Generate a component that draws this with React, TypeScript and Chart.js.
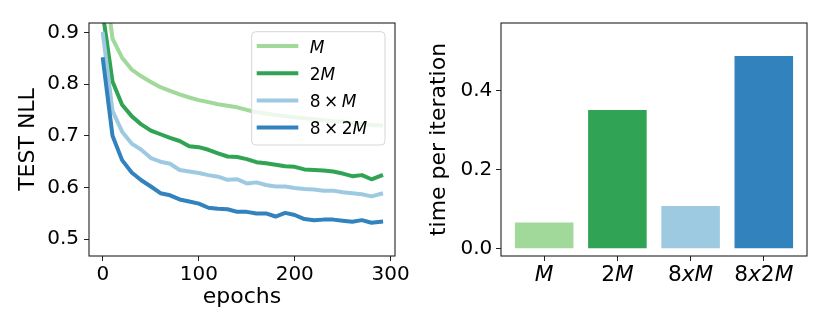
import React, { useEffect, useRef } from 'react';
import { Chart, registerables } from 'chart.js';

Chart.register(...registerables);

const epochs = [0, 10, 20, 30, 40, 50, 60, 70, 80, 90, 100, 110, 120, 130, 140, 150, 160, 170, 180, 190, 200, 210, 220, 230, 240, 250, 260, 270, 280, 290];
const nllM = [1.03, 0.888, 0.851, 0.828, 0.815, 0.804, 0.794, 0.787, 0.780, 0.774, 0.769, 0.765, 0.761, 0.758, 0.755, 0.750, 0.746, 0.743, 0.740, 0.738, 0.736, 0.734, 0.732, 0.730, 0.728, 0.727, 0.725, 0.723, 0.721, 0.720];
const nll2M = [0.935, 0.805, 0.760, 0.738, 0.722, 0.710, 0.703, 0.696, 0.690, 0.680, 0.678, 0.673, 0.666, 0.660, 0.659, 0.655, 0.649, 0.647, 0.644, 0.641, 0.640, 0.635, 0.634, 0.633, 0.631, 0.627, 0.622, 0.624, 0.616, 0.623];
const nll8xM = [0.897, 0.748, 0.708, 0.685, 0.673, 0.657, 0.650, 0.646, 0.634, 0.631, 0.628, 0.624, 0.621, 0.615, 0.616, 0.608, 0.610, 0.605, 0.602, 0.602, 0.599, 0.597, 0.596, 0.594, 0.594, 0.591, 0.589, 0.587, 0.583, 0.588];
const nll8x2M = [0.848, 0.700, 0.653, 0.629, 0.614, 0.602, 0.589, 0.585, 0.577, 0.573, 0.569, 0.561, 0.559, 0.558, 0.553, 0.553, 0.550, 0.550, 0.544, 0.551, 0.547, 0.539, 0.537, 0.538, 0.538, 0.536, 0.534, 0.537, 0.532, 0.534];
const seriesLabels = ['M', '2M', '8 × M', '8 × 2M'];
const seriesColors = ['#a1d99b', '#31a354', '#9ecae1', '#3182bd'];

const barCategories = ['M', '2M', '8xM', '8x2M'];
const timePerIteration = [0.066, 0.351, 0.108, 0.488];

const nllTicks = [0.5, 0.6, 0.7, 0.8, 0.9];
const epochTicks = [0, 100, 200, 300];
const timeTicks = [0, 0.2, 0.4];

const FAM = '"DejaVu Sans", sans-serif';
const TICK_SIZE = 20;
const LABEL_SIZE = 22;

type Run = { text: string; italic: boolean; gap?: number };

function toRuns(text: string, gap: number): Run[] {
  const runs: Run[] = [];
  for (const ch of Array.from(text)) {
    if (ch === ' ') {
      runs.push({ text: '', italic: false, gap });
      continue;
    }
    const italic = /[A-Za-z]/.test(ch);
    const last = runs[runs.length - 1];
    if (last && last.gap === undefined && last.italic === italic) last.text += ch;
    else runs.push({ text: ch, italic });
  }
  return runs;
}

function drawRich(ctx: CanvasRenderingContext2D, text: string, x: number, y: number, size: number, align: 'left' | 'center', gap: number) {
  const runs = toRuns(text, gap);
  const widths = runs.map((r) => {
    if (r.gap !== undefined) return r.gap;
    ctx.font = `${r.italic ? 'italic ' : ''}${size}px ${FAM}`;
    return ctx.measureText(r.text).width;
  });
  const total = widths.reduce((a, b) => a + b, 0);
  let cx = align === 'center' ? x - total / 2 : x;
  ctx.textAlign = 'left';
  ctx.textBaseline = 'alphabetic';
  ctx.fillStyle = '#000';
  runs.forEach((r, i) => {
    if (r.gap === undefined) {
      ctx.font = `${r.italic ? 'italic ' : ''}${size}px ${FAM}`;
      ctx.fillText(r.text, cx, y);
    }
    cx += widths[i];
  });
}

const framePlugin = {
  id: 'mplFrame',
  afterDraw(chart: any) {
    const { ctx, chartArea: a } = chart;
    ctx.save();
    ctx.strokeStyle = '#222';
    ctx.lineWidth = 1.1;
    ctx.strokeRect(a.left, a.top, a.right - a.left, a.bottom - a.top);
    ctx.restore();
  },
};

const legendPlugin = {
  id: 'mplLegend',
  afterDatasetsDraw(chart: any) {
    const { ctx, chartArea: a } = chart;
    const bx = a.right - 143.3;
    const by = a.top + 8.7;
    const bw = 133.3;
    const bh = 113.3;
    ctx.save();
    ctx.beginPath();
    (ctx as any).roundRect(bx, by, bw, bh, 4);
    ctx.fillStyle = 'rgba(255,255,255,0.8)';
    ctx.fill();
    ctx.strokeStyle = '#d6d6d6';
    ctx.lineWidth = 1;
    ctx.stroke();
    seriesLabels.forEach((label, i) => {
      const ry = by + 14.3 + i * 27.2;
      ctx.beginPath();
      ctx.strokeStyle = seriesColors[i];
      ctx.lineWidth = 4;
      ctx.lineCap = 'butt';
      ctx.moveTo(bx + 5, ry);
      ctx.lineTo(bx + 46.6, ry);
      ctx.stroke();
      drawRich(ctx, label, bx + 58, ry + 6.5, 17, 'left', 3.5);
    });
    ctx.restore();
  },
};

const barLabelPlugin = {
  id: 'mplBarLabels',
  afterDraw(chart: any) {
    const { ctx } = chart;
    const xs = chart.scales.x;
    ctx.save();
    barCategories.forEach((c, i) => {
      drawRich(ctx, c, xs.getPixelForValue(i), 280.7, 21.7, 'center', 0);
    });
    ctx.restore();
  },
};

const tickGrid = { display: true, drawOnChartArea: false, drawTicks: true, tickLength: 5, color: '#222', lineWidth: 1, offset: false };

export default function App() {
  const lineRef = useRef<HTMLCanvasElement>(null);
  const barRef = useRef<HTMLCanvasElement>(null);

  useEffect(() => {
    const series = [nllM, nll2M, nll8xM, nll8x2M];
    const lineChart = new Chart(lineRef.current!, {
      type: 'line',
      data: {
        datasets: series.map((s, i) => ({
          label: seriesLabels[i],
          data: s.map((v, j) => ({ x: epochs[j], y: v })),
          borderColor: seriesColors[i],
          backgroundColor: seriesColors[i],
          borderWidth: 4,
          pointRadius: 0,
          tension: 0,
          borderJoinStyle: 'round' as const,
          borderCapStyle: 'square' as const,
          order: 4 - i,
        })),
      },
      options: {
        animation: false,
        responsive: false,
        devicePixelRatio: 1,
        layout: { padding: { top: 23, right: 20, left: 0, bottom: 0 } },
        plugins: { legend: { display: false }, tooltip: { enabled: false } },
        scales: {
          x: {
            type: 'linear',
            min: -14.5,
            max: 304.5,
            offset: false,
            afterBuildTicks: (s: any) => { s.ticks = epochTicks.map((v) => ({ value: v })); },
            afterFit: (s: any) => { s.height = 76; },
            grid: tickGrid,
            border: { display: false },
            ticks: { font: { family: FAM, size: TICK_SIZE }, color: '#000', padding: 1.5, maxRotation: 0, autoSkip: false, callback: (v: any) => String(v) },
            title: { display: true, text: 'epochs', color: '#000', font: { family: FAM, size: LABEL_SIZE }, padding: { top: 0, bottom: 22 } },
          },
          y: {
            type: 'linear',
            min: 0.4677,
            max: 0.918,
            afterBuildTicks: (s: any) => { s.ticks = nllTicks.map((v) => ({ value: v })); },
            afterFit: (s: any) => { s.width = 89; },
            grid: tickGrid,
            border: { display: false },
            ticks: { font: { family: FAM, size: TICK_SIZE }, color: '#000', padding: 5, autoSkip: false, callback: (v: any) => Number(v).toFixed(1) },
            title: { display: true, text: 'TEST NLL', color: '#000', font: { family: FAM, size: LABEL_SIZE }, padding: { top: 15.5, bottom: 0 } },
          },
        },
      } as any,
      plugins: [legendPlugin, framePlugin],
    });

    const barChart = new Chart(barRef.current!, {
      type: 'bar',
      data: {
        datasets: [
          {
            label: 'time per iteration',
            data: timePerIteration.map((v, i) => ({ x: i, y: v })),
            backgroundColor: seriesColors,
            borderWidth: 0,
            barPercentage: 1,
            categoryPercentage: 0.8,
          },
        ],
      },
      options: {
        animation: false,
        responsive: false,
        devicePixelRatio: 1,
        layout: { padding: { top: 23, right: 23, left: 0, bottom: 0 } },
        plugins: { legend: { display: false }, tooltip: { enabled: false } },
        scales: {
          x: {
            type: 'linear',
            min: -0.59,
            max: 3.59,
            offset: false,
            afterBuildTicks: (s: any) => { s.ticks = barCategories.map((_, i) => ({ value: i })); },
            afterFit: (s: any) => { s.height = 76; },
            grid: tickGrid,
            border: { display: false },
            ticks: { font: { family: FAM, size: TICK_SIZE }, color: '#000', padding: 1.5, maxRotation: 0, autoSkip: false, callback: () => '' },
          },
          y: {
            type: 'linear',
            min: -0.0186,
            max: 0.5713,
            afterBuildTicks: (s: any) => { s.ticks = timeTicks.map((v) => ({ value: v })); },
            afterFit: (s: any) => { s.width = 86; },
            grid: tickGrid,
            border: { display: false },
            ticks: { font: { family: FAM, size: TICK_SIZE }, color: '#000', padding: 3.7, autoSkip: false, callback: (v: any) => Number(v).toFixed(1) },
            title: { display: true, text: 'time per iteration', color: '#000', font: { family: FAM, size: LABEL_SIZE }, padding: { top: 11, bottom: 0 } },
          },
        },
      } as any,
      plugins: [barLabelPlugin, framePlugin],
    });

    return () => {
      lineChart.destroy();
      barChart.destroy();
    };
  }, []);

  return (
    <div style={{ position: 'fixed', left: 0, top: 0, width: 830, height: 332, background: '#fff', display: 'flex' }}>
      <canvas ref={lineRef} width={415} height={332} style={{ width: 415, height: 332, display: 'block' }} />
      <canvas ref={barRef} width={415} height={332} style={{ width: 415, height: 332, display: 'block' }} />
    </div>
  );
}
